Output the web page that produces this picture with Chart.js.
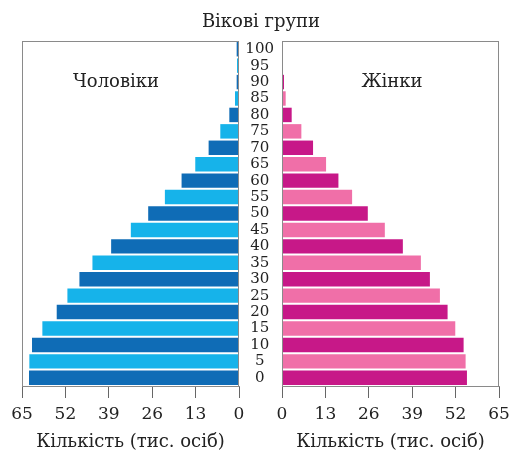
<!DOCTYPE html>
<html>
<head>
<meta charset="utf-8">
<script src="https://cdn.jsdelivr.net/npm/chart.js@4"></script>
<style>
  body { margin: 0; background: #fff; }
  #wrap { position: relative; width: 512px; height: 455px; font-family: 'DejaVu Serif', serif; color: #222; }
  canvas { position: absolute; left: 0; top: 0; }
  .lbl { position: absolute; white-space: nowrap; transform: translate(-50%, -50%); }
</style>
</head>
<body>
<div id="wrap">
  <canvas id="men" width="512" height="455"></canvas>
  <canvas id="women" width="512" height="455"></canvas>
  <div class="lbl" style="left:261px; top:20px; font-size:18px;">Вікові групи</div>
  <div class="lbl" style="left:116px; top:80px; font-size:18px;">Чоловіки</div>
  <div class="lbl" style="left:392px; top:80px; font-size:18px;">Жінки</div>
</div>
<script>
// Age groups, bottom to top
const ages = ['0', '5', '10', '15', '20', '25', '30', '35', '40', '45', '50',
              '55', '60', '65', '70', '75', '80', '85', '90', '95', '100'];
const men = [62.9, 62.8, 62.0, 58.9, 54.6, 51.4, 47.8, 43.9, 38.3, 32.4, 27.2,
             22.2, 17.2, 13.1, 9.1, 5.6, 2.9, 1.2, 0.7, 0.6, 0.7];
const women = [55.4, 55.0, 54.4, 51.9, 49.6, 47.3, 44.3, 41.6, 36.2, 30.8, 25.7,
               21.0, 16.9, 13.2, 9.3, 5.8, 2.9, 1.1, 0.6, 0.2, 0.2];
const xTicks = [0, 13, 26, 39, 52, 65];

const menColors = ages.map((a, i) => i % 2 === 0 ? '#0f6cb6' : '#16b3ea');
const womenColors = ages.map((a, i) => i % 2 === 0 ? '#c71888' : '#f06fa8');

const font = 'DejaVu Serif';
const grey = '#8a8a8a';

// box around each panel
const boxPlugin = {
    id: 'box',
    afterDraw(chart) {
        const { ctx, chartArea: a } = chart;
        ctx.save();
        ctx.strokeStyle = grey;
        ctx.lineWidth = 1;
        ctx.strokeRect(Math.round(a.left) + 0.5, Math.round(a.top) + 0.5,
            Math.round(a.right - a.left) - 1, Math.round(a.bottom - a.top));
        ctx.restore();
    }
};

function xScale(reverse) {
    return {
        type: 'linear',
        reverse: reverse,
        min: 0,
        max: 65,
        afterBuildTicks: s => { s.ticks = xTicks.map(v => ({ value: v })); },
        afterFit: s => { s.height = 69; s.paddingLeft = 0; s.paddingRight = 0; },
        grid: { drawOnChartArea: false, drawTicks: true, tickLength: 12, color: '#666' },
        border: { color: grey },
        ticks: { color: '#222', font: { family: font, size: 17 }, padding: 6, maxRotation: 0 },
        title: {
            display: true,
            text: 'Кількість (тис. осіб)',
            color: '#222',
            font: { family: font, size: 18 },
            padding: { top: 0, bottom: 2 }
        }
    };
}

function makeChart(id, data, colors, left) {
    return new Chart(document.getElementById(id), {
        type: 'bar',
        data: {
            labels: ages,
            datasets: [{
                data: data,
                backgroundColor: colors,
                borderWidth: 0,
                barPercentage: 0.88,
                categoryPercentage: 1
            }]
        },
        options: {
            indexAxis: 'y',
            responsive: false,
            animation: false,
            layout: {
                padding: left
                    ? { left: 22, right: 273, top: 41, bottom: 0 }
                    : { left: 238, right: 13, top: 41, bottom: 0 }
            },
            plugins: { legend: { display: false }, tooltip: { enabled: false } },
            scales: {
                x: xScale(left),
                y: {
                    reverse: true,
                    display: !left,
                    afterFit: s => { s.width = left ? 0 : 44; },
                    grid: { display: false, drawTicks: false },
                    border: { display: false },
                    ticks: {
                        autoSkip: false,
                        crossAlign: 'center',
                        padding: 8,
                        color: '#222',
                        font: { family: font, size: 15 }
                    }
                }
            }
        },
        plugins: [boxPlugin]
    });
}

makeChart('men', men, menColors, true);
makeChart('women', women, womenColors, false);
</script>
</body>
</html>
